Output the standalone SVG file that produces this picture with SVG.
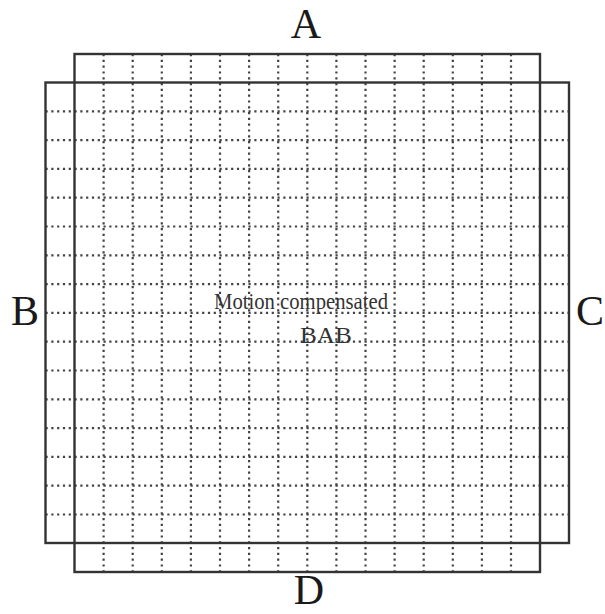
<svg xmlns="http://www.w3.org/2000/svg" width="605" height="614" viewBox="0 0 605 614">
<style>
.frame{fill:none;stroke:#333;stroke-width:2.4}
.dot{stroke:#444;stroke-width:2.2;stroke-dasharray:2.2 3.6;fill:none}
.lbl{font-family:"Liberation Serif",serif;font-size:42px;fill:#1a1a1a}
.mid{font-family:"Liberation Serif",serif;font-size:24px;fill:#333}
</style>
<rect width="605" height="614" fill="#fff"/>
<g id="grid">
<path class="dot" d="M103.6 54V572M132.7 54V572M161.8 54V572M190.9 54V572M220 54V572M249.1 54V572M278.2 54V572M307.3 54V572M336.4 54V572M365.5 54V572M394.6 54V572M423.7 54V572M452.8 54V572M481.9 54V572M511 54V572"/>
<path class="dot" d="M45.5 111.3H569M45.5 140.1H569M45.5 168.9H569M45.5 197.7H569M45.5 226.5H569M45.5 255.3H569M45.5 284.1H569M45.5 312.9H569M45.5 341.7H569M45.5 370.5H569M45.5 399.3H569M45.5 428.1H569M45.5 456.9H569M45.5 485.7H569M45.5 514.5H569"/>
</g>
<g id="blockA"><rect class="frame" x="74.5" y="54" width="465.5" height="518"/></g>
<g id="blockB"><rect class="frame" x="45.5" y="82.5" width="523.5" height="460.5"/></g>
<g id="labels">
<text class="lbl" x="306" y="38" text-anchor="middle">A</text>
<text class="lbl" x="11" y="325">B</text>
<text class="lbl" x="576" y="325">C</text>
<text class="lbl" x="309" y="604" text-anchor="middle">D</text>
<text class="mid" x="214" y="309" textLength="174" lengthAdjust="spacingAndGlyphs">Motion compensated</text>
<text class="mid" x="300" y="343" textLength="52" lengthAdjust="spacingAndGlyphs">BAB</text>
</g>
</svg>
